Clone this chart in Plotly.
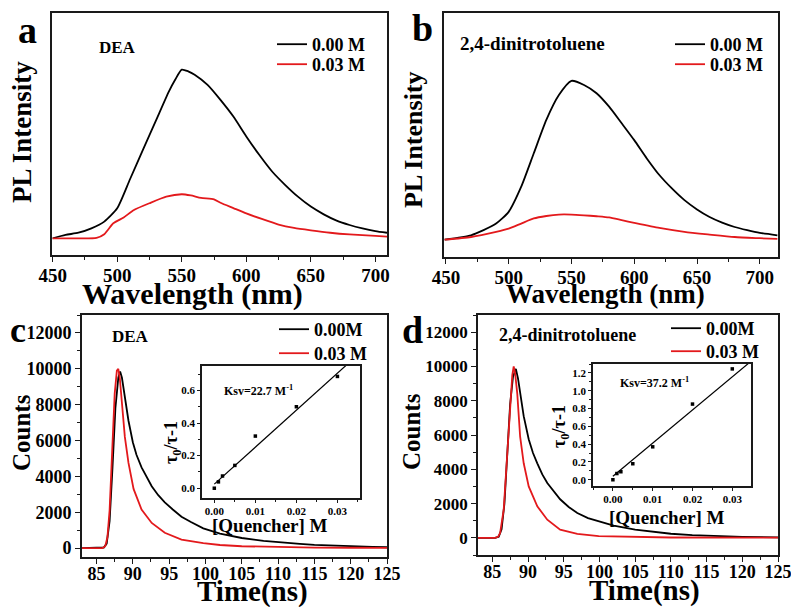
import plotly.graph_objects as go

W, H = 791, 607
SERIF = "Liberation Serif, Times New Roman, serif"
BLACK = "#000000"
RED = "#e3191c"
FRAME = "#1a1a1a"

# ---------------- PL spectra (arbitrary units) ----------------
# a: DEA
wl_a_000 = [450, 460, 470, 480, 490, 500, 510, 520, 530, 540, 545, 550, 555, 560, 570, 580,
            590, 600, 610, 620, 630, 640, 650, 660, 670, 680, 690, 700, 709]
pl_a_000 = [6.9, 8.3, 9.2, 11.0, 13.8, 19.3, 31.4, 43.5, 55.5, 67.5, 72.5, 76.6, 75.9, 74.5,
            70.3, 64.1, 57.2, 49.0, 41.4, 34.5, 29.0, 24.1, 20.0, 16.8, 14.2, 12.4, 11.0, 9.9, 9.2]
wl_a_003 = [450, 470, 484, 490, 497, 505, 513, 525, 538, 550, 557, 565, 575, 580, 590, 600,
            612, 625, 637, 650, 665, 680, 700, 709]
pl_a_003 = [6.9, 6.9, 7.1, 8.6, 13.1, 15.5, 18.6, 21.4, 24.1, 25.1, 24.6, 23.6, 23.0, 21.6,
            19.4, 17.2, 14.9, 12.6, 11.2, 10.2, 9.2, 8.5, 7.9, 7.6]

# b: 2,4-dinitrotoluene
wl_b_000 = [449, 470, 480, 490, 500, 510, 520, 530, 540, 550, 560, 570, 580, 590, 600, 610,
            620, 630, 640, 650, 660, 670, 680, 690, 700, 714]
pl_b_000 = [7.1, 8.9, 11.0, 13.7, 18.5, 28.8, 42.5, 56.2, 66.4, 72.2, 70.5, 67.1, 61.6, 54.8,
            47.9, 40.4, 33.6, 28.1, 23.3, 19.5, 16.4, 14.1, 12.3, 11.0, 9.9, 8.9]
wl_b_003 = [449, 470, 490, 500, 510, 520, 530, 540, 550, 560, 570, 580, 590, 600, 620, 640,
            660, 680, 700, 714]
pl_b_003 = [7.1, 8.2, 10.3, 11.6, 13.7, 15.8, 16.8, 17.4, 17.4, 17.1, 16.7, 16.2, 15.1, 14.0,
            11.9, 10.3, 9.2, 8.2, 7.7, 7.4]

# ---------------- Fluorescence decays ----------------
# c: DEA
t_c_000 = [83, 85.5, 86.0, 86.4, 86.8, 87.2, 87.6, 88.0, 88.25, 88.5, 88.9, 89.4, 90.0, 90.5,
           91.2, 92.0, 92.6, 93.5, 94.4, 95.5, 96.7, 98.0, 99.7, 102, 105, 108, 110, 113, 115,
           118, 120, 123, 125]
n_c_000 = [0, 0, 30, 250, 1500, 4500, 7800, 9500, 9850, 9500, 8400, 7100, 5900, 5200, 4500,
           3850, 3450, 2950, 2550, 2150, 1750, 1450, 1100, 800, 560, 400, 320, 230, 180, 120,
           90, 60, 45]
t_c_003 = [83, 85.8, 86.2, 86.5, 86.8, 87.2, 87.5, 87.8, 88.0, 88.2, 88.4, 88.9, 89.4, 90.1,
           91.2, 92.6, 94.4, 96.7, 99.7, 102, 105, 110, 115, 120, 125]
n_c_003 = [0, 0, 100, 600, 2100, 5800, 8600, 9900, 10000, 9500, 8600, 6200, 4750, 3300, 2150,
           1400, 850, 470, 270, 170, 100, 50, 25, 15, 10]

# d: 2,4-dinitrotoluene
t_d_000 = [83, 85.4, 85.9, 86.3, 86.7, 87.1, 87.5, 87.9, 88.3, 88.6, 88.9, 89.4, 90.1, 90.7,
           91.3, 92.0, 92.7, 93.6, 94.5, 95.7, 96.9, 98.4, 100, 102, 105, 108, 110, 113, 115,
           118, 120, 125]
n_d_000 = [0, 0, 60, 500, 2000, 5000, 7800, 9400, 9860, 9300, 8400, 7100, 5750, 4950, 4350,
           3700, 3200, 2700, 2250, 1800, 1450, 1150, 950, 720, 480, 320, 240, 160, 120, 80, 60, 30]
t_d_003 = [83, 85.4, 85.8, 86.1, 86.6, 87.06, 87.5, 87.8, 88.0, 88.2, 88.5, 88.9, 89.4, 90.1,
           91.3, 92.7, 94.5, 96.9, 99.9, 105, 110, 125]
n_d_003 = [0, 0, 60, 290, 1640, 4550, 7840, 9500, 10000, 9600, 8400, 5900, 4350, 3000, 1840,
           1060, 480, 230, 100, 40, 20, 10]

# ---------------- Stern-Volmer insets ----------------
quencher = [0.0, 0.001, 0.002, 0.005, 0.01, 0.02, 0.03]
sv_c = [0.0, 0.039, 0.075, 0.14, 0.32, 0.50, 0.686]
sv_d = [0.0, 0.07, 0.09, 0.18, 0.37, 0.85, 1.245]
ksv_c, b_c = 22.7, 0.025
ksv_d, b_d = 37.2, 0.04
fit_x = [0.0, 0.036]

# ---------------- tick values / labels ----------------
wl_ticks = [450, 500, 550, 600, 650, 700]
t_ticks = [85, 90, 95, 100, 105, 110, 115, 120, 125]
count_ticks = [0, 2000, 4000, 6000, 8000, 10000, 12000]
q_ticks = [0.0, 0.01, 0.02, 0.03]
q_labels = ["0.00", "0.01", "0.02", "0.03"]
sv_c_ticks = [0.0, 0.2, 0.4, 0.6]
sv_d_ticks = [0.0, 0.2, 0.4, 0.6, 0.8, 1.0, 1.2]

legend_labels_ab = ["0.00 M", "0.03 M"]
legend_labels_cd = ["0.00M", "0.03 M"]


def xdom(x0, x1):
    return [x0 / W, x1 / W]


def ydom(y0, y1):
    return [1 - y1 / H, 1 - y0 / H]


def px(x):
    return x / W


def py(y):
    return 1 - y / H


fig = go.Figure()


def curve(x, y, color, name, xa, ya, legend, width=1.8, shape="spline"):
    fig.add_trace(go.Scatter(
        x=x, y=y, mode="lines", name=name,
        line=dict(color=color, width=width, shape=shape, smoothing=0.6),
        xaxis=xa, yaxis=ya, legend=legend, showlegend=True,
    ))


curve(wl_a_000, pl_a_000, BLACK, legend_labels_ab[0], "x", "y", "legend")
curve(wl_a_003, pl_a_003, RED, legend_labels_ab[1], "x", "y", "legend2")
curve(wl_b_000, pl_b_000, BLACK, legend_labels_ab[0], "x2", "y2", "legend3")
curve(wl_b_003, pl_b_003, RED, legend_labels_ab[1], "x2", "y2", "legend4")
curve(t_c_000, n_c_000, BLACK, legend_labels_cd[0], "x3", "y3", "legend5", shape="linear")
curve(t_c_003, n_c_003, RED, legend_labels_cd[1], "x3", "y3", "legend6", shape="linear")
curve(t_d_000, n_d_000, BLACK, legend_labels_cd[0], "x4", "y4", "legend7", shape="linear")
curve(t_d_003, n_d_003, RED, legend_labels_cd[1], "x4", "y4", "legend8", shape="linear")

# inset points and linear Stern-Volmer fits
for xa, ya, sv, k, b in [("x5", "y5", sv_c, ksv_c, b_c), ("x6", "y6", sv_d, ksv_d, b_d)]:
    fig.add_trace(go.Scatter(
        x=quencher, y=sv, mode="markers", xaxis=xa, yaxis=ya, showlegend=False,
        marker=dict(symbol="square", size=3.5, color=BLACK),
    ))
    fig.add_trace(go.Scatter(
        x=fit_x, y=[b + k * q for q in fit_x], mode="lines", xaxis=xa, yaxis=ya,
        showlegend=False, line=dict(color=BLACK, width=1.2),
    ))


def axis(domain, rng, anchor, tickvals=None, ticktext=None, minor_dtick=None,
         size=18, ticklen=5, standoff=0):
    labels = tickvals is not None
    d = dict(
        domain=domain, range=rng, anchor=anchor, showline=True, linecolor=FRAME,
        linewidth=1.6, mirror=True, showgrid=False, zeroline=False,
        ticks="outside" if labels else "", ticklen=ticklen, tickwidth=1.3, tickcolor=FRAME,
        showticklabels=labels, ticklabeloverflow="allow", ticklabelstandoff=standoff,
        tickfont=dict(family=SERIF, size=size, color="black", weight="bold"),
    )
    if labels:
        if ticktext is None:
            ticktext = [str(v) for v in tickvals]
        d["tickmode"] = "array"
        d["tickvals"] = tickvals
        d["ticktext"] = ["<b>%s</b>" % t for t in ticktext]
    if minor_dtick is not None:
        d["minor"] = dict(ticks="outside", ticklen=max(2, ticklen - 2), tickwidth=1,
                          tickcolor=FRAME, dtick=minor_dtick, tick0=0)
    return d


fig.update_layout(
    width=W, height=H, autosize=False,
    margin=dict(l=0, r=0, t=0, b=0, pad=0, autoexpand=False),
    paper_bgcolor="white", plot_bgcolor="white",
    font=dict(family=SERIF, color="black"),
    xaxis=axis(xdom(52, 387), [449.5, 709], "y", wl_ticks, minor_dtick=25, size=19,
               standoff=-3),
    yaxis=axis(ydom(13, 255), [0, 100], "x"),
    xaxis2=axis(xdom(444, 778), [448.5, 714.5], "y2", wl_ticks, minor_dtick=25, size=19,
                standoff=-3),
    yaxis2=axis(ydom(13, 257), [0, 100], "x2"),
    xaxis3=axis(xdom(82, 387), [83, 125], "y3", t_ticks, minor_dtick=2.5, standoff=-5),
    yaxis3=axis(ydom(315, 557), [-500, 13000], "x3", count_ticks, minor_dtick=1000),
    xaxis4=axis(xdom(478, 778), [83, 125], "y4", t_ticks, minor_dtick=2.5, standoff=-5),
    yaxis4=axis(ydom(315, 555), [-1000, 13000], "x4", count_ticks, minor_dtick=1000,
                size=17),
    xaxis5=axis(xdom(202, 360), [-0.003, 0.0355], "y5", q_ticks, q_labels, 0.005,
                size=11, ticklen=3, standoff=-1),
    yaxis5=axis(ydom(366, 498), [-0.06, 0.75], "x5", sv_c_ticks,
                ["%.1f" % v for v in sv_c_ticks], 0.1, size=11, ticklen=3),
    xaxis6=axis(xdom(593, 751), [-0.005, 0.0347], "y6", q_ticks, q_labels, 0.005,
                size=11, ticklen=3, standoff=-1),
    yaxis6=axis(ydom(364, 486), [-0.07, 1.3], "x6", sv_d_ticks,
                ["%.1f" % v for v in sv_d_ticks], 0.1, size=11, ticklen=3),
)

leg_common = dict(xanchor="left", yanchor="top", bgcolor="rgba(0,0,0,0)",
                  font=dict(family=SERIF, size=18, color="black", weight="bold"),
                  tracegroupgap=0, itemwidth=30)
fig.update_layout(
    legend=dict(x=px(272), y=py(26), **leg_common),
    legend2=dict(x=px(272), y=py(46), **leg_common),
    legend3=dict(x=px(670), y=py(26), **leg_common),
    legend4=dict(x=px(670), y=py(46), **leg_common),
    legend5=dict(x=px(274), y=py(311), **leg_common),
    legend6=dict(x=px(274), y=py(335), **leg_common),
    legend7=dict(x=px(666), y=py(310), **leg_common),
    legend8=dict(x=px(666), y=py(333), **leg_common),
)

anns = []


def text(x, y, s, size, bold=True, angle=0, xanchor="center"):
    anns.append(dict(
        x=px(x), y=py(y), xref="paper", yref="paper", text=s, showarrow=False,
        xanchor=xanchor, yanchor="middle", textangle=angle,
        font=dict(family=SERIF, size=size, color="black", weight="bold" if bold else "normal"),
    ))


# panel letters
text(27, 30, "a", 38)
text(422, 28, "b", 38)
text(18, 330, "c", 36)
text(412, 330, "d", 38)

# axis titles
text(22, 132, "PL Intensity", 27, angle=-90)
text(413, 140, "PL Intensity", 26, angle=-90)
text(192, 294, "Wavelength (nm)", 30)
text(605, 294, "Wavelength (nm)", 27)
text(21, 433, "Counts", 25, angle=-90)
text(411, 432, "Counts", 25, angle=-90)
text(252, 591, "Time(ns)", 29)
text(644, 590, "Time(ns)", 29)

# sample names
text(97, 47, "DEA", 17, xanchor="left")
text(458, 43, "2,4-dinitrotoluene", 19, xanchor="left")
text(110, 337, "DEA", 17, xanchor="left")
text(497, 335, "2,4-dinitrotoluene", 18, xanchor="left")

# inset titles
text(270, 525, "[Quencher] M", 19)
text(667, 517, "[Quencher] M", 19)
text(172, 443, "τ<sub>0</sub>/τ-1", 18, angle=-90)
text(560, 427, "τ<sub>0</sub>/τ-1", 18, angle=-90)
text(222, 390, "Ksv=22.7 M<sup>-1</sup>", 12, xanchor="left")
text(618, 382, "Ksv=37.2 M<sup>-1</sup>", 12, xanchor="left")

fig.update_layout(annotations=anns)

fig.write_html("out.html")
